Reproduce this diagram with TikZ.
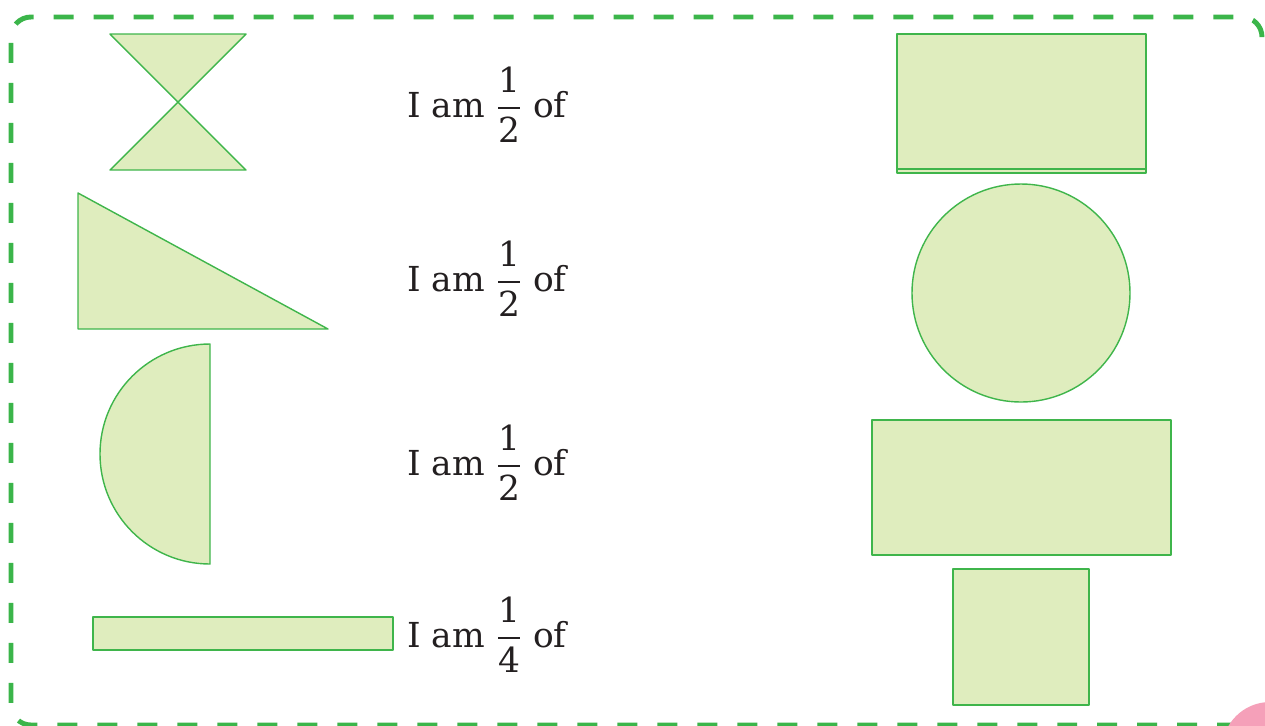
\documentclass[tikz,border=0pt]{standalone}
\usepackage{amsmath}
\usepackage{fontspec}
\setmainfont{DejaVu Serif}
\definecolor{shapefill}{HTML}{DFEDBE}
\definecolor{shapeline}{HTML}{3FB54B}
\definecolor{framegreen}{HTML}{3BB54A}
\definecolor{cornerpink}{HTML}{F5A0B9}
\definecolor{inkgrey}{HTML}{231F20}
\newcommand{\piecefrac}[2]{$\dfrac{\text{#1}}{\text{#2}}$}
\begin{document}
\begin{tikzpicture}[x=0.02cm, y=-0.02cm,
  piece/.style={draw=shapeline, fill=shapefill, line width=0.8pt, line join=round},
  sentence/.style={anchor=base west, inner sep=0pt, text=inkgrey, font=\fontsize{19.6}{23}\selectfont}]
% Page size and dashed frame
\useasboundingbox (0,0) rectangle (1265,725);
\draw[framegreen, line width=2.8pt, dash pattern=on 0.4cm off 0.4cm, rounded corners=0.4cm]
  (1262,37) -- (1262,17) -- (11,17) -- (11,725) -- (1235,725);
\fill[cornerpink] (1270,750) circle[radius=48];

% Left column: the halves and the quarter
\draw[piece] (110,34) -- (246,34) -- (178,102) -- cycle;
\draw[piece] (178,102) -- (110,170) -- (246,170) -- cycle;
\draw[piece] (78,193) -- (78,329) -- (328,329) -- cycle;
\draw[piece] (210,344) arc[start angle=270, end angle=90, radius=110] -- cycle;
\draw[piece] (93,617) rectangle (393,650);

% Middle column: the sentences
\node[sentence] (row1) at (407,117) {I am \piecefrac{1}{2} of};
\node[sentence] (row2) at (407,291) {I am \piecefrac{1}{2} of};
\node[sentence] (row3) at (407,475) {I am \piecefrac{1}{2} of};
\node[sentence] (row4) at (407,647) {I am \piecefrac{1}{4} of};

% Right column: the wholes
\draw[piece] (897,34) rectangle (1146,173);
\draw[piece] (897,169) -- (1146,169);
\draw[piece] (1021,293) circle[radius=109];
\draw[piece] (872,420) rectangle (1171,555);
\draw[piece] (953,569) rectangle (1089,705);
\end{tikzpicture}
\end{document}
